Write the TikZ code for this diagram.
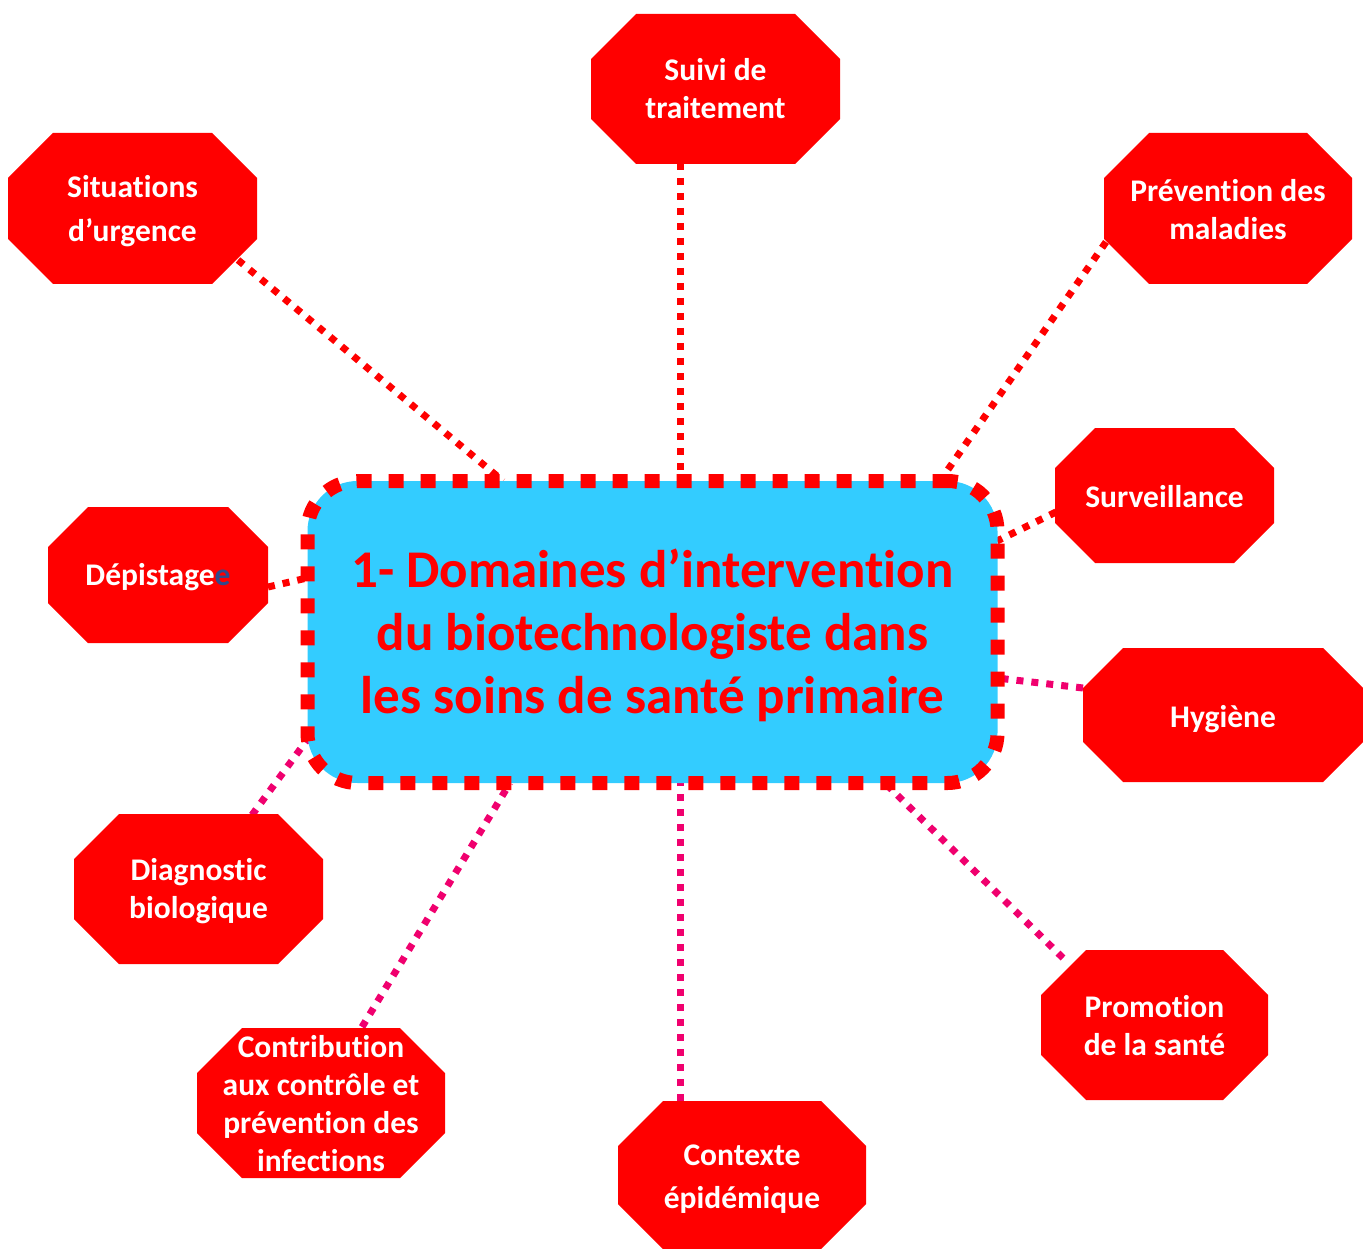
\documentclass[tikz,border=0pt]{standalone}
\usepackage{fontspec}
\setmainfont[Ligatures=NoCommon]{Carlito}
\usetikzlibrary{calc,backgrounds}
\definecolor{octred}{RGB}{255,0,0}
\definecolor{linkpink}{RGB}{240,0,110}
\definecolor{boxblue}{RGB}{51,204,255}
\definecolor{eblue}{RGB}{47,75,140}
\newcommand\octfill[2]{\fill[octred] ($(#1.north west)+(#2,0)$) -- ($(#1.north east)+(-#2,0)$) -- ($(#1.north east)+(0,#2)$) -- ($(#1.south east)+(0,-#2)$) -- ($(#1.south east)+(-#2,0)$) -- ($(#1.south west)+(#2,0)$) -- ($(#1.south west)+(0,-#2)$) -- ($(#1.north west)+(0,#2)$) -- cycle;}
\newcommand\lowr[2]{\raisebox{-#1}[\height][\depth]{#2}}
\tikzset{
  oct/.style={text=white, font=\fontsize{31.5pt}{38pt}\selectfont\bfseries, align=center, inner sep=0pt, outer sep=0pt},
  redlink/.style={draw=octred, line width=7pt, dash pattern=on 7pt off 8pt},
  pinklink/.style={draw=linkpink, line width=7pt, dash pattern=on 7pt off 8pt},
  mainbox/.style={rectangle, rounded corners=50pt, fill=boxblue, draw=octred, line width=14pt, dash pattern=on 15pt off 17pt, text=octred, font=\fontsize{53pt}{63pt}\selectfont\bfseries, align=center, minimum width=690pt, minimum height=302pt, inner sep=0pt}
}
\begin{document}
\begin{tikzpicture}[x=1pt,y=-1pt]
\useasboundingbox (0,0) rectangle (1363,1249);
% octagon nodes
\node[oct, minimum width=249pt, minimum height=150pt] (sui) at (715.5,89) {Suivi de\\traitement};
\node[oct, minimum width=249pt, minimum height=151pt] (sit) at (132.5,208.5) {\lowr{3pt}{Situations}\\[6pt]\lowr{3pt}{d’urgence}};
\node[oct, minimum width=248pt, minimum height=151pt] (pre) at (1228,208.5) {\lowr{1pt}{Prévention des}\\\lowr{1pt}{maladies}};
\node[oct, minimum width=219pt, minimum height=135pt] (sur) at (1164.5,495.5) {\lowr{1pt}{Surveillance}};
\node[oct, minimum width=220pt, minimum height=136pt] (dep) at (158,575) {\lowr{2pt}{Dépistage\textcolor{eblue}{e}}};
\node[oct, minimum width=280pt, minimum height=134pt] (hyg) at (1223,715) {\lowr{4pt}{Hygiène}};
\node[oct, minimum width=249pt, minimum height=150pt] (dia) at (198.5,889) {\lowr{2pt}{Diagnostic}\\\lowr{2pt}{biologique}};
\node[oct, minimum width=248pt, minimum height=150pt] (con) at (321,1103) {\lowr{1pt}{Contribution}\\\lowr{1pt}{aux contrôle et}\\\lowr{1pt}{prévention des}\\\lowr{1pt}{infections}};
\node[oct, minimum width=248pt, minimum height=148pt] (ctx) at (742,1175) {\lowr{4pt}{Contexte}\\[5pt]\lowr{4pt}{épidémique}};
\node[oct, minimum width=227pt, minimum height=150pt] (pro) at (1154.5,1025) {\lowr{1pt}{Promotion}\\\lowr{1pt}{de la santé}};
% central box
\node[mainbox] (box) at (652.5,632) {\lowr{3pt}{1- Domaines d’intervention}\\\lowr{3pt}{du biotechnologiste dans}\\\lowr{3pt}{les soins de santé primaire}};
% connector end points
\coordinate (sui-e) at (680,163);   \coordinate (box-sui) at (680,481);
\coordinate (sit-e) at (238,260);   \coordinate (box-sit) at (503,481);
\coordinate (pre-e) at (1106,242);  \coordinate (box-pre) at (940,481);
\coordinate (sur-e) at (1056,512);  \coordinate (box-sur) at (997,541);
\coordinate (dep-e) at (268,587);   \coordinate (box-dep) at (307,578);
\coordinate (hyg-e) at (1083,688);  \coordinate (box-hyg) at (997,678);
\coordinate (dia-e) at (252,815);   \coordinate (box-dia) at (307,740);
\coordinate (con-e) at (362,1027);  \coordinate (box-con) at (510,783);
\coordinate (ctx-e) at (680,1101);  \coordinate (box-ctx) at (680,783);
\coordinate (pro-e) at (1063,958);  \coordinate (box-pro) at (885,783);
\begin{pgfonlayer}{background}
\draw[redlink] (sui-e) -- (box-sui);
\draw[redlink] (sit-e) -- (box-sit);
\draw[redlink] (pre-e) -- (box-pre);
\draw[redlink] (sur-e) -- (box-sur);
\draw[redlink] (dep-e) -- (box-dep);
\draw[pinklink] (hyg-e) -- (box-hyg);
\draw[pinklink] (dia-e) -- (box-dia);
\draw[pinklink] (con-e) -- (box-con);
\draw[pinklink] (ctx-e) -- (box-ctx);
\draw[pinklink] (pro-e) -- (box-pro);
\octfill{sui}{45}
\octfill{sit}{45}
\octfill{pre}{45}
\octfill{sur}{40}
\octfill{dep}{40}
\octfill{hyg}{40}
\octfill{dia}{45}
\octfill{con}{45}
\octfill{ctx}{45}
\octfill{pro}{45}
\end{pgfonlayer}
\end{tikzpicture}
\end{document}
